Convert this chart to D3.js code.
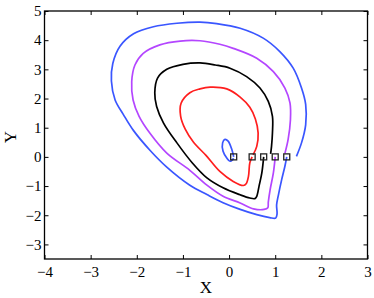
<!DOCTYPE html>
<html>
<head>
<meta charset="utf-8">
<script src="https://cdn.jsdelivr.net/npm/d3@7"></script>
<style>
  body { margin: 0; background: #fff; }
  text { font-family: "Liberation Serif", "Times New Roman", serif; }
</style>
</head>
<body>
<div id="chart"></div>
<script>
// tick values
const xTicks = [-4, -3, -2, -1, 0, 1, 2, 3];
const yTicks = [-3, -2, -1, 0, 1, 2, 3, 4, 5];

// starting points (squares)
const startX = [0.1, 0.5, 0.75, 1.0, 1.25];

// trajectories
const smallLoop = [[0.1,0],[0.06,0.25],[-0.02,0.54],[-0.09,0.6],[-0.14,0.48],[-0.13,0.19],[-0.05,-0.04],[0.02,-0.15],[0.1,-0.05]];
const redOrbit = [[0.5,0],[0.45,-0.2],[0.42,-0.67],[0.37,-0.92],[0.31,-0.98],[0.09,-0.84],[-0.2,-0.5],[-0.5,0.05],[-0.77,0.5],[-0.95,0.95],[-1.05,1.4],[-1.04,1.84],[-0.85,2.2],[-0.63,2.33],[-0.41,2.39],[-0.05,2.33],[0.24,2.05],[0.45,1.7],[0.57,1.3],[0.63,0.82],[0.6,0.36],[0.52,0.07]];
const blackOrbit = [[0.75,0],[0.71,-0.55],[0.65,-1.0],[0.6,-1.35],[0.56,-1.43],[0.45,-1.41],[0.24,-1.3],[-0.13,-1.06],[-0.48,-0.72],[-0.8,-0.2],[-1.13,0.48],[-1.42,1.16],[-1.57,1.73],[-1.61,2.2],[-1.55,2.7],[-1.35,3.0],[-1.0,3.17],[-0.63,3.22],[-0.3,3.15],[0.02,3.04],[0.38,2.75],[0.67,2.36],[0.85,1.9],[0.94,1.39],[0.94,0.82],[0.92,0.36],[0.9,0.1]];
const purpleOrbit = [[1.0,0],[0.96,-0.55],[0.89,-1.12],[0.85,-1.55],[0.84,-1.74],[0.76,-1.8],[0.53,-1.78],[0.24,-1.58],[-0.13,-1.35],[-0.48,-0.97],[-0.85,-0.46],[-1.35,0.13],[-1.71,0.8],[-1.95,1.39],[-2.08,1.95],[-2.11,2.58],[-2.04,3.15],[-1.86,3.55],[-1.5,3.84],[-1.06,3.97],[-0.63,3.98],[-0.2,3.86],[0.09,3.72],[0.6,3.38],[0.96,2.92],[1.21,2.36],[1.32,1.85],[1.33,1.27],[1.28,0.6],[1.21,0.12]];
const blueOrbit = [[1.25,0],[1.21,-0.32],[1.14,-0.78],[1.07,-1.3],[1.03,-1.65],[1.04,-1.95],[1.01,-2.1],[0.88,-2.08],[0.6,-1.98],[0.24,-1.8],[-0.13,-1.57],[-0.48,-1.29],[-0.85,-0.97],[-1.35,-0.35],[-1.71,0.22],[-2.07,0.9],[-2.29,1.45],[-2.47,1.95],[-2.55,2.6],[-2.52,3.2],[-2.36,3.8],[-2.07,4.22],[-1.64,4.46],[-1.13,4.58],[-0.63,4.62],[-0.27,4.57],[0.24,4.41],[0.74,4.07],[1.1,3.61],[1.39,3.04],[1.57,2.36],[1.66,1.8],[1.66,1.1],[1.57,0.48],[1.46,0.02]];

const series = [
  { pts: blueOrbit, color: "#3a56ff" },
  { pts: purpleOrbit, color: "#b446ff" },
  { pts: blackOrbit, color: "#000000" },
  { pts: redOrbit, color: "#ff1e1e" },
  { pts: smallLoop, color: "#3a56ff" }
];

const W = 374, H = 298;
const margin = { top: 11, right: 6.5, bottom: 39, left: 44.5 };
const width = W - margin.left - margin.right,
  height = H - margin.top - margin.bottom;

const svg = d3.select("#chart").append("svg")
  .attr("width", W).attr("height", H)
  .append("g")
  .attr("transform", `translate(${margin.left},${margin.top})`);

const x = d3.scaleLinear().domain([-4, 3]).range([0, width]);
const y = d3.scaleLinear().domain([-3.5, 5]).range([height, 0]);
const fmt = d3.format("d");

// axes, ticks pointing inward like matlab
const styleAxis = g => {
  g.select(".domain").remove();
  g.selectAll(".tick line").attr("stroke", "#000");
  g.selectAll("text").attr("fill", "#000").style("font-size", "15px");
};
svg.append("g").attr("transform", `translate(0,${height})`)
  .call(d3.axisBottom(x).tickValues(xTicks).tickFormat(fmt).tickSize(-4).tickPadding(7))
  .call(styleAxis);
svg.append("g")
  .call(d3.axisLeft(y).tickValues(yTicks).tickFormat(fmt).tickSize(-4).tickPadding(3))
  .call(styleAxis);
svg.append("g")
  .call(d3.axisTop(x).tickValues(xTicks).tickSize(-4).tickFormat(""))
  .call(styleAxis);
svg.append("g").attr("transform", `translate(${width},0)`)
  .call(d3.axisRight(y).tickValues(yTicks).tickSize(-4).tickFormat(""))
  .call(styleAxis);

svg.append("rect")
  .attr("width", width).attr("height", height)
  .attr("fill", "none").attr("stroke", "#000").attr("stroke-width", 1.3);

// trajectories
const line = d3.line()
  .x(d => x(d[0])).y(d => y(d[1]))
  .curve(d3.curveCatmullRom.alpha(0.5));

svg.selectAll(".orbit")
  .data(series)
  .join("path")
  .attr("class", "orbit")
  .attr("d", d => line(d.pts))
  .attr("fill", "none")
  .attr("stroke", d => d.color)
  .attr("stroke-width", 1.7);

// start markers
svg.selectAll(".start")
  .data(startX)
  .join("rect")
  .attr("class", "start")
  .attr("x", d => x(d) - 3)
  .attr("y", y(0) - 3)
  .attr("width", 6).attr("height", 6)
  .attr("fill", "none")
  .attr("stroke", "#222")
  .attr("stroke-width", 1.3);

// axis labels
svg.append("text")
  .attr("x", width / 2).attr("y", height + 34)
  .attr("text-anchor", "middle")
  .style("font-size", "17px")
  .text("X");
svg.append("text")
  .attr("transform", `translate(${-28.5},${height / 2 + 2}) rotate(-90)`)
  .attr("text-anchor", "middle")
  .style("font-size", "17px")
  .text("Y");
</script>
</body>
</html>
